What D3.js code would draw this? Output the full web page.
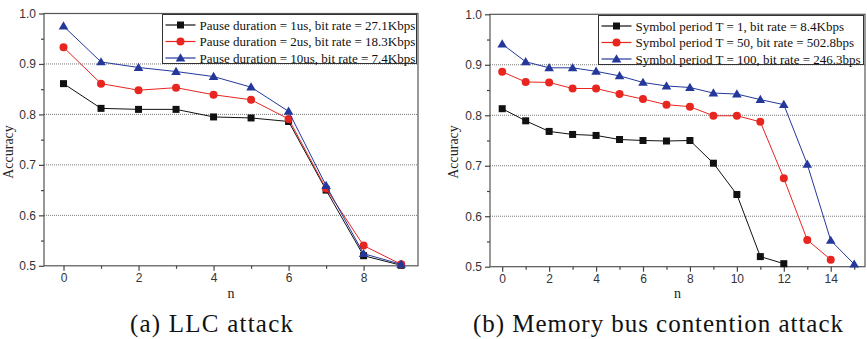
<!DOCTYPE html>
<html><head><meta charset="utf-8">
<script src="https://cdn.jsdelivr.net/npm/d3@7"></script>
<style>body{margin:0;background:#fff}svg{display:block}</style>
</head><body>
<svg id="c" width="867" height="339"></svg>
<script>
// ---- data ----
const nA = [0,1,2,3,4,5,6,7,8,9];
const llc1us  = [0.861,0.812,0.810,0.810,0.795,0.793,0.786,0.650,0.520,0.501];
const llc2us  = [0.933,0.861,0.848,0.853,0.839,0.829,0.791,0.653,0.540,0.503];
const llc10us = [0.975,0.904,0.893,0.885,0.875,0.854,0.806,0.659,0.524,0.503];
const legendA = ["Pause duration = 1us, bit rate = 27.1Kbps","Pause duration = 2us, bit rate = 18.3Kbps","Pause duration = 10us, bit rate = 7.4Kbps"];

const nB1 = [0,1,2,3,4,5,6,7,8,9,10,11,12];
const nB50 = [0,1,2,3,4,5,6,7,8,9,10,11,12,13,14];
const nB100 = [0,1,2,3,4,5,6,7,8,9,10,11,12,13,14,15];
const mbT1   = [0.813,0.789,0.768,0.762,0.760,0.752,0.750,0.749,0.750,0.705,0.643,0.520,0.506];
const mbT50  = [0.886,0.866,0.865,0.853,0.853,0.842,0.832,0.821,0.817,0.799,0.799,0.787,0.675,0.553,0.514];
const mbT100 = [0.941,0.906,0.894,0.894,0.887,0.878,0.865,0.858,0.855,0.844,0.842,0.831,0.821,0.703,0.552,0.505];
const legendB = ["Symbol period T = 1, bit rate = 8.4Kbps","Symbol period T = 50, bit rate = 502.8bps","Symbol period T = 100, bit rate = 246.3bps"];

const yTicks = [0.5,0.6,0.7,0.8,0.9,1.0];
const gridVals = [0.6,0.7,0.8,0.9];
const colors = ["#111111","#e8251f","#24389c"];
const shapes = ["square","circle","triangle"];
const captions = ["(a) LLC attack","(b) Memory bus contention attack"];

const svg = d3.select("#c");
const serif = "'Liberation Serif','Times New Roman',serif";
const sans = "'Liberation Sans',Arial,sans-serif";

function marker(g, shape, color, x, y){
  if(shape==="square") g.append("rect").attr("x",x-3.5).attr("y",y-3.5).attr("width",7).attr("height",7).attr("fill",color);
  else if(shape==="circle") g.append("circle").attr("cx",x).attr("cy",y).attr("r",4).attr("fill",color);
  else g.append("path").attr("d",`M${x},${y-4.8}L${x+4.8},${y+3.4}L${x-4.8},${y+3.4}Z`).attr("fill",color);
}

function panel(cfg){
  const x = d3.scaleLinear().domain(cfg.xdom).range([cfg.left,cfg.right]);
  const y = d3.scaleLinear().domain([0.5,1.0]).range([cfg.bottom,cfg.top]);
  const g = svg.append("g");
  // grid
  g.selectAll(".grid").data(gridVals).join("line")
    .attr("x1",cfg.left).attr("x2",cfg.right)
    .attr("y1",d=>y(d)).attr("y2",d=>y(d))
    .attr("stroke","#777").attr("stroke-width",1).attr("stroke-dasharray","1,1");
  // frame
  g.append("rect").attr("x",cfg.left).attr("y",cfg.top).attr("width",cfg.right-cfg.left).attr("height",cfg.bottom-cfg.top)
    .attr("fill","none").attr("stroke","#555").attr("stroke-width",1.2);
  // y axis
  const ya = d3.axisLeft(y).tickValues(yTicks).tickFormat(d3.format(".1f")).tickSize(5).tickPadding(3);
  const yag = g.append("g").attr("transform",`translate(${cfg.left},0)`).call(ya);
  const yminor = d3.axisLeft(y).tickValues([0.55,0.65,0.75,0.85,0.95]).tickFormat("").tickSize(3);
  const ymg = g.append("g").attr("transform",`translate(${cfg.left},0)`).call(yminor);
  // x axis
  const xa = d3.axisBottom(x).tickValues(cfg.xmajor).tickFormat(d3.format("d")).tickSize(5).tickPadding(3);
  const xag = g.append("g").attr("transform",`translate(0,${cfg.bottom})`).call(xa);
  const xminor = d3.axisBottom(x).tickValues(cfg.xminor).tickFormat("").tickSize(3);
  const xmg = g.append("g").attr("transform",`translate(0,${cfg.bottom})`).call(xminor);
  [yag,ymg,xag,xmg].forEach(a=>{
    a.select(".domain").remove();
    a.selectAll("line").attr("stroke","#444").attr("stroke-width",1.2);
    a.selectAll("text").attr("font-family",sans).attr("font-size",12).attr("fill","#333");
  });
  // axis titles
  g.append("text").attr("transform",`translate(${cfg.ylabX},${cfg.ylabY}) rotate(-90)`)
    .attr("text-anchor","middle").attr("font-family",serif).attr("font-size",14).attr("fill","#222").text("Accuracy");
  g.append("text").attr("x",(cfg.left+cfg.right)/2).attr("y",298).attr("text-anchor","middle")
    .attr("font-family",serif).attr("font-size",14).attr("fill","#222").text("n");
  // series
  cfg.series.forEach((s,i)=>{
    const line = d3.line().x((d,j)=>x(s.xs[j])).y(d=>y(d));
    g.append("path").datum(s.ys).attr("d",line).attr("fill","none").attr("stroke",colors[i]).attr("stroke-width",1);
    s.ys.forEach((v,j)=>marker(g,shapes[i],colors[i],x(s.xs[j]),y(v)));
  });
  // legend
  const L = cfg.legend;
  const lg = g.append("g");
  lg.append("rect").attr("x",L.x).attr("y",L.y).attr("width",L.w).attr("height",L.h)
    .attr("fill","#fff").attr("stroke","#333").attr("stroke-width",1);
  cfg.labels.forEach((t,i)=>{
    const ry = L.y + 10.5 + i*16.5;
    lg.append("line").attr("x1",L.x+3).attr("x2",L.x+33).attr("y1",ry).attr("y2",ry).attr("stroke",colors[i]).attr("stroke-width",1.2);
    marker(lg,shapes[i],colors[i],L.x+18,ry);
    lg.append("text").attr("x",L.x+37).attr("y",ry+4.5).attr("font-family",serif).attr("font-size",13).attr("fill","#111").text(t);
  });
  // caption
  svg.append("text").attr("x",cfg.capX).attr("y",332).attr("text-anchor","middle")
    .attr("font-family",serif).attr("font-size",25).attr("fill","#111")
    .attr("textLength",cfg.capW).attr("lengthAdjust","spacing").text(cfg.caption);
}

panel({
  left:44, right:418, top:13.5, bottom:265.8, xdom:[-0.52,9.45],
  xmajor:[0,2,4,6,8], xminor:[1,3,5,7,9],
  ylabX:13, ylabY:152,
  series:[{xs:nA,ys:llc1us},{xs:nA,ys:llc2us},{xs:nA,ys:llc10us}],
  labels:legendA,
  legend:{x:162.5,y:14.5,w:254,h:49},
  caption:captions[0], capX:211.5, capW:163
});
panel({
  left:490, right:865, top:14.3, bottom:266.7, xdom:[-0.52,15.46],
  xmajor:[0,2,4,6,8,10,12,14], xminor:[1,3,5,7,9,11,13,15],
  ylabX:458, ylabY:152,
  series:[{xs:nB1,ys:mbT1},{xs:nB50,ys:mbT50},{xs:nB100,ys:mbT100}],
  labels:legendB,
  legend:{x:598.5,y:15.5,w:265,h:49},
  caption:captions[1], capX:658, capW:370
});
</script>
</body></html>
